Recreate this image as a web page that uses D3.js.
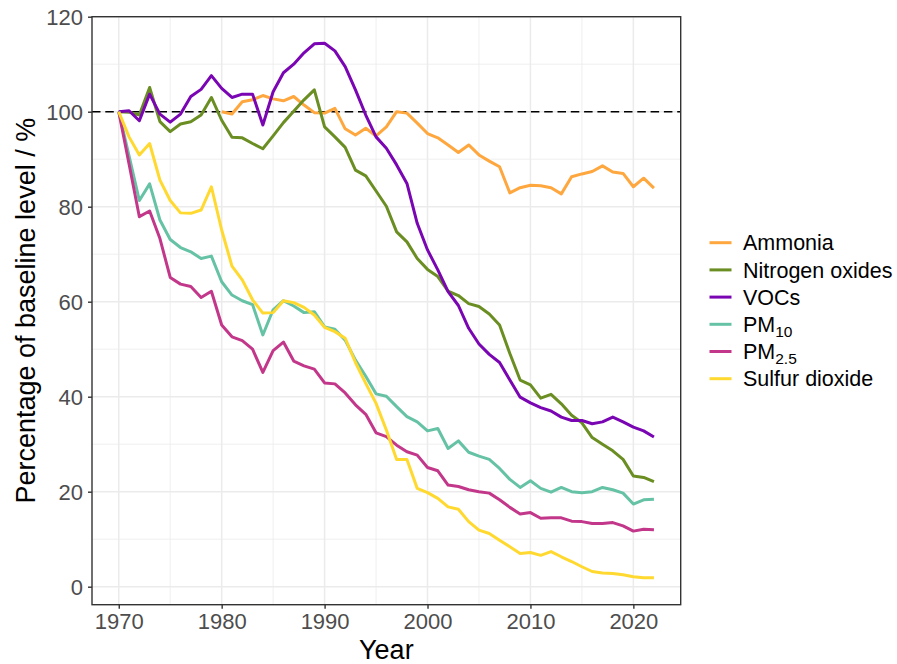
<!DOCTYPE html>
<html>
<head>
<meta charset="utf-8">
<script src="https://cdn.jsdelivr.net/npm/d3@7"></script>
<style>
  html, body { margin: 0; padding: 0; background: #fff; }
  svg { display: block; font-family: "Liberation Sans", Arial, Helvetica, sans-serif; }
</style>
</head>
<body>
<svg id="chart" width="897" height="664"></svg>
<script>
// ---------- data ----------
const years = d3.range(1970, 2023);

const ammonia = [null, null, null, null, null, null, null, null, null, null,
  100.0, 99.5, 102.1, 102.5, 103.4, 102.7, 102.3, 103.2, 101.4, 99.8,
  99.7, 100.7, 96.4, 95.1, 96.5, 94.9, 96.8, 100.0, 99.7, 97.6,
  95.4, 94.5, 93.0, 91.4, 93.0, 90.9, 89.6, 88.4, 82.9, 84.0,
  84.5, 84.4, 84.0, 82.7, 86.3, 86.9, 87.4, 88.6, 87.3, 87.0,
  84.2, 86.0, 83.9];

const nitrogenOxides = [100.0, 99.9, 99.3, 105.1, 97.9, 95.8, 97.4, 97.9, 99.3, 103.0,
  98.2, 94.6, 94.5, 93.3, 92.2, 94.9, 97.7, 100.1, 102.5, 104.6,
  96.8, 94.7, 92.5, 87.7, 86.5, 83.3, 80.1, 74.7, 72.6, 69.1,
  66.8, 65.3, 62.2, 61.3, 59.6, 59.0, 57.4, 55.1, 49.1, 43.5,
  42.5, 39.7, 40.5, 38.5, 36.1, 34.5, 31.4, 30.0, 28.6, 26.8,
  23.3, 23.0, 22.1];

const vocs = [100.0, 100.2, 98.1, 103.7, 99.5, 97.8, 99.5, 103.2, 104.7, 107.6,
  104.9, 103.0, 103.7, 103.7, 97.2, 104.2, 108.2, 110.0, 112.4, 114.3,
  114.4, 112.8, 109.5, 104.6, 99.3, 94.7, 92.3, 88.8, 84.9, 76.5,
  70.9, 66.7, 62.1, 59.2, 54.4, 51.1, 48.9, 47.2, 43.5, 39.9,
  38.7, 37.7, 37.0, 35.7, 35.0, 35.0, 34.3, 34.7, 35.7, 34.7,
  33.6, 32.8, 31.5];

const pm10 = [100.0, 90.7, 81.3, 84.8, 77.2, 73.1, 71.4, 70.5, 69.1, 69.6,
  64.2, 61.4, 60.2, 59.4, 53.0, 58.3, 60.2, 59.1, 57.7, 57.9,
  54.7, 54.2, 51.9, 47.7, 44.3, 40.6, 40.1, 37.9, 35.8, 34.7,
  32.8, 33.3, 29.1, 30.7, 28.3, 27.5, 26.8, 24.9, 22.6, 20.9,
  22.3, 20.7, 19.9, 20.9, 20.0, 19.8, 20.0, 20.9, 20.4, 19.7,
  17.4, 18.3, 18.4];

const pm25 = [100.0, 89.0, 77.9, 79.1, 73.3, 65.1, 63.7, 63.2, 60.9, 62.2,
  55.1, 52.6, 51.8, 50.0, 45.1, 49.7, 51.5, 47.5, 46.5, 45.8,
  42.9, 42.7, 40.8, 38.3, 36.3, 32.4, 31.6, 29.8, 28.4, 27.7,
  25.1, 24.4, 21.4, 21.1, 20.4, 20.0, 19.7, 18.3, 16.7, 15.3,
  15.6, 14.4, 14.5, 14.5, 13.8, 13.7, 13.3, 13.3, 13.5, 12.8,
  11.7, 12.1, 12.0];

const sulfurDioxide = [100.0, 94.7, 90.9, 93.3, 85.6, 81.3, 78.7, 78.6, 79.3, 84.2,
  75.1, 67.5, 64.6, 60.4, 57.6, 57.7, 60.2, 59.8, 58.8, 57.2,
  54.6, 53.7, 52.3, 47.2, 42.8, 38.6, 33.0, 26.8, 26.8, 20.7,
  19.8, 18.6, 16.8, 16.3, 13.7, 11.9, 11.2, 9.8, 8.4, 7.0,
  7.2, 6.6, 7.4, 6.3, 5.3, 4.2, 3.2, 2.9, 2.8, 2.5,
  2.1, 1.9, 1.9];

const seriesNames = ["Ammonia", "Nitrogen oxides", "VOCs", "PM10", "PM2.5", "Sulfur dioxide"];
const seriesValues = [ammonia, nitrogenOxides, vocs, pm10, pm25, sulfurDioxide];
const seriesColors = ["#FFA73F", "#6B8E23", "#7A05B3", "#66C2A5", "#C2378A", "#FFD92F"];
// legend labels: [main text, subscript]
const legendLabels = [["Ammonia", ""], ["Nitrogen oxides", ""], ["VOCs", ""], ["PM", "10"], ["PM", "2.5"], ["Sulfur dioxide", ""]];

const xTicks = [1970, 1980, 1990, 2000, 2010, 2020];
const xMinor = [1975, 1985, 1995, 2005, 2015];
const yTicks = [0, 20, 40, 60, 80, 100, 120];
const yMinor = [10, 30, 50, 70, 90, 110];
const baseline = 100;

// ---------- layout ----------
const svg = d3.select("#chart");
const panel = { left: 92, top: 16.7, right: 680.7, bottom: 604.7 };

const x = d3.scaleLinear().domain([1967.4, 2024.6]).range([panel.left, panel.right]);
const y = d3.scaleLinear().domain([-3.79, 120]).range([panel.bottom, panel.top]);

svg.append("rect").attr("width", 897).attr("height", 664).attr("fill", "#fff");

const grid = svg.append("g");
// minor grid
grid.selectAll("line.xmin").data(xMinor).join("line")
  .attr("x1", d => x(d)).attr("x2", d => x(d))
  .attr("y1", panel.top).attr("y2", panel.bottom)
  .attr("stroke", "#EBEBEB").attr("stroke-width", 0.8);
grid.selectAll("line.ymin").data(yMinor).join("line")
  .attr("y1", d => y(d)).attr("y2", d => y(d))
  .attr("x1", panel.left).attr("x2", panel.right)
  .attr("stroke", "#EBEBEB").attr("stroke-width", 0.8);
// major grid
grid.selectAll("line.xmaj").data(xTicks).join("line")
  .attr("x1", d => x(d)).attr("x2", d => x(d))
  .attr("y1", panel.top).attr("y2", panel.bottom)
  .attr("stroke", "#EBEBEB").attr("stroke-width", 1.5);
grid.selectAll("line.ymaj").data(yTicks).join("line")
  .attr("y1", d => y(d)).attr("y2", d => y(d))
  .attr("x1", panel.left).attr("x2", panel.right)
  .attr("stroke", "#EBEBEB").attr("stroke-width", 1.5);

// clip
svg.append("clipPath").attr("id", "clip").append("rect")
  .attr("x", panel.left).attr("y", panel.top)
  .attr("width", panel.right - panel.left).attr("height", panel.bottom - panel.top);

const plot = svg.append("g").attr("clip-path", "url(#clip)");

// baseline dashed
plot.append("line")
  .attr("x1", panel.left).attr("x2", panel.right)
  .attr("y1", y(baseline)).attr("y2", y(baseline))
  .attr("stroke", "#000").attr("stroke-width", 1.6)
  .attr("stroke-dasharray", "8.5,4.8");

const line = d3.line()
  .defined(d => d[1] !== null)
  .x(d => x(d[0])).y(d => y(d[1]));

seriesValues.forEach((vals, i) => {
  plot.append("path")
    .datum(years.map((yr, j) => [yr, vals[j]]))
    .attr("d", line)
    .attr("fill", "none")
    .attr("stroke", seriesColors[i])
    .attr("stroke-width", 3)
    .attr("stroke-linejoin", "round")
    .attr("stroke-linecap", "butt");
});

// panel border
svg.append("rect")
  .attr("x", panel.left).attr("y", panel.top)
  .attr("width", panel.right - panel.left).attr("height", panel.bottom - panel.top)
  .attr("fill", "none").attr("stroke", "#333333").attr("stroke-width", 1.4);

// axes
const xAxis = svg.append("g")
  .attr("transform", `translate(0,${panel.bottom})`)
  .call(d3.axisBottom(x).tickValues(xTicks).tickFormat(d3.format("d")).tickSize(4).tickPadding(4));
const yAxis = svg.append("g")
  .attr("transform", `translate(${panel.left},0)`)
  .call(d3.axisLeft(y).tickValues(yTicks).tickSize(4).tickPadding(5));

[xAxis, yAxis].forEach(a => {
  a.select(".domain").remove();
  a.selectAll(".tick line").attr("stroke", "#333333").attr("stroke-width", 1.4);
  a.selectAll(".tick text").attr("fill", "#4D4D4D")
    .style("font-size", "22px")
    .style("font-family", "'Liberation Sans', Arial, sans-serif");
});
xAxis.selectAll(".tick text").attr("dy", "0.75em");
yAxis.selectAll(".tick text").attr("dy", "0.36em");

// axis titles
svg.append("text")
  .attr("x", (panel.left + panel.right) / 2).attr("y", 659)
  .attr("text-anchor", "middle")
  .style("font-size", "27px").attr("fill", "#000")
  .text("Year");

svg.append("text")
  .attr("transform", `translate(35,${(panel.top + panel.bottom) / 2}) rotate(-90)`)
  .attr("text-anchor", "middle")
  .style("font-size", "27px").attr("fill", "#000")
  .text("Percentage of baseline level / %");

// legend
const legend = svg.append("g");
const legTop = 242.7, legStep = 27.2;
legendLabels.forEach((lab, i) => {
  const cy = legTop + i * legStep;
  legend.append("line")
    .attr("x1", 709.5).attr("x2", 731.5)
    .attr("y1", cy).attr("y2", cy)
    .attr("stroke", seriesColors[i]).attr("stroke-width", 3);
  const t = legend.append("text")
    .attr("x", 743).attr("y", cy).attr("dy", "0.36em")
    .style("font-size", "21.5px").attr("fill", "#000");
  t.append("tspan").text(lab[0]);
  if (lab[1]) {
    t.append("tspan").attr("dy", "0.32em").style("font-size", "15.5px").text(lab[1]);
  }
});
</script>
</body>
</html>
